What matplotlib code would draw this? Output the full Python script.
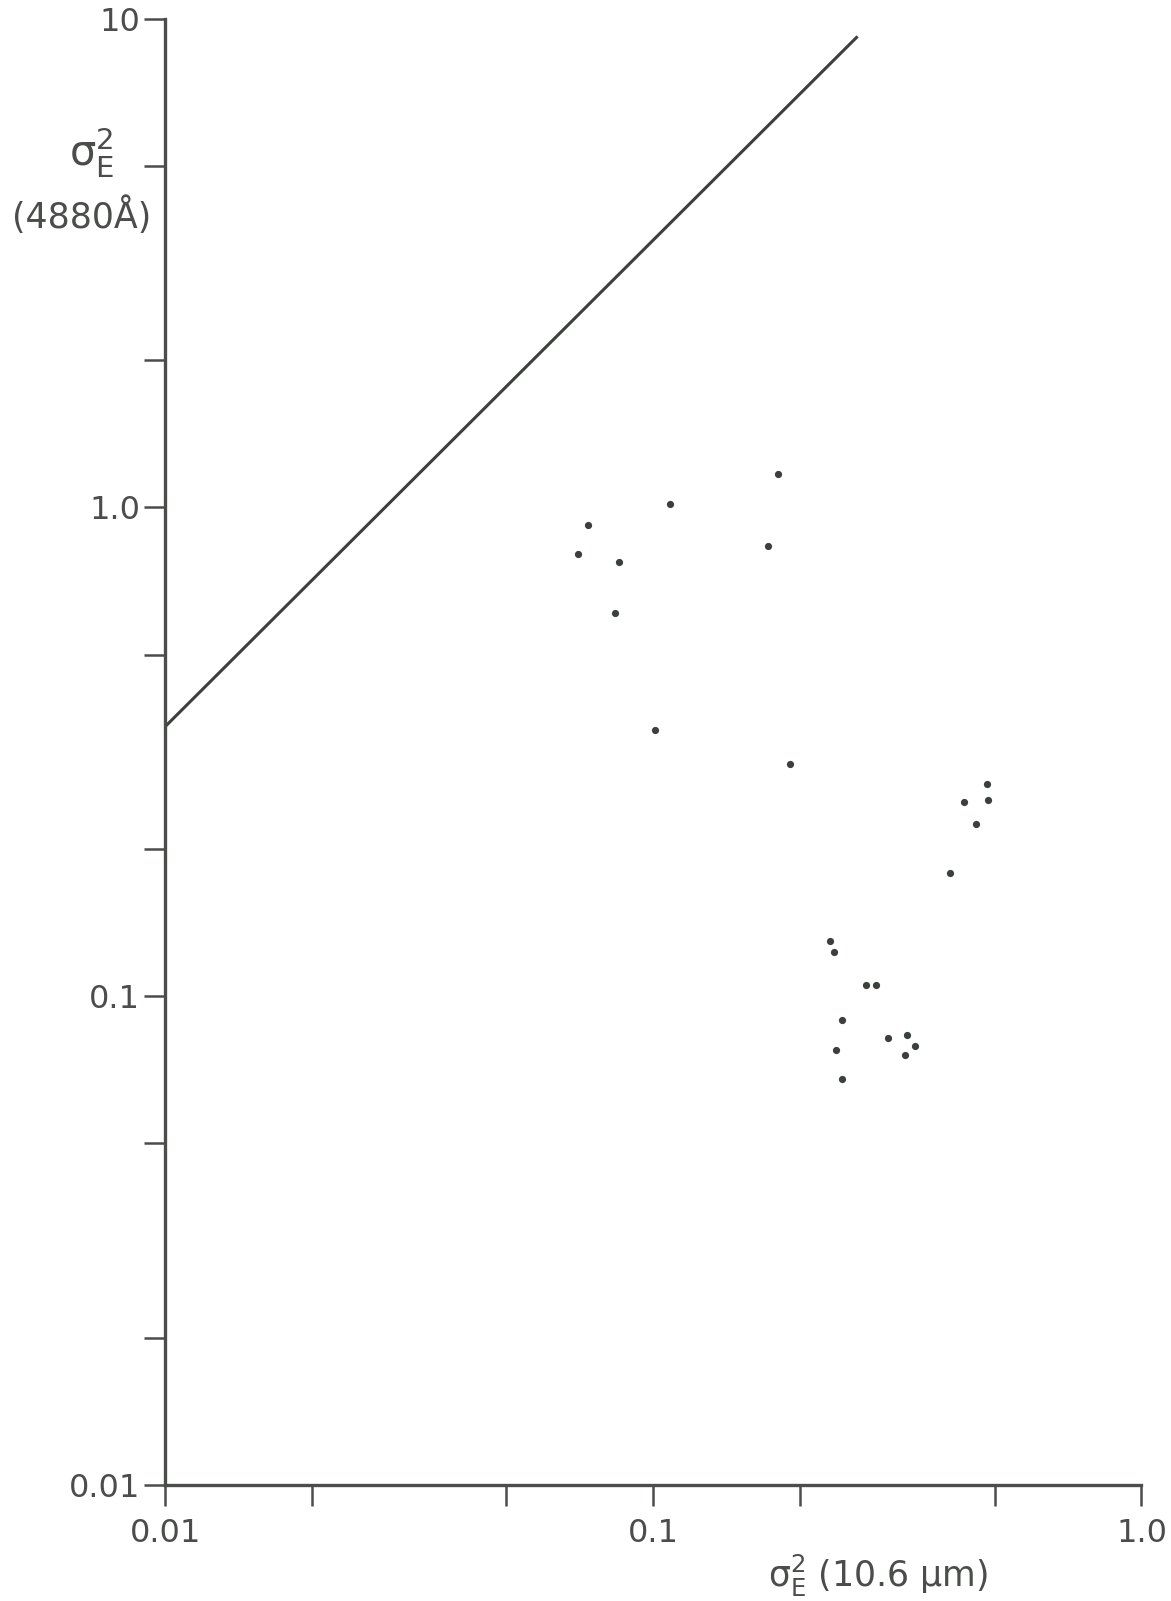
import matplotlib
matplotlib.use("Agg")
import matplotlib.pyplot as plt
import numpy as np

plt.rcParams["mathtext.default"] = "regular"

# scintillation variance at 10.6 um vs 4880 A
sig_ir = [0.1798, 0.1083, 0.0733, 0.0702, 0.0849, 0.172, 0.0833, 0.1006, 0.1902,
          0.483, 0.4325, 0.484, 0.458, 0.405, 0.230, 0.2349, 0.2727, 0.2858,
          0.2435, 0.3024, 0.3304, 0.343, 0.2367, 0.328, 0.2435]
sig_vis = [1.170, 1.016, 0.922, 0.804, 0.774, 0.835, 0.607, 0.350, 0.299,
           0.272, 0.250, 0.252, 0.2253, 0.179, 0.130, 0.123, 0.1053, 0.1055,
           0.0892, 0.0822, 0.0832, 0.0790, 0.0778, 0.0759, 0.0678]

# straight reference line (endpoints)
line_x = [0.01, 0.262]
line_y = [0.3565, 9.2]

xticks = [0.01, 0.02, 0.05, 0.1, 0.2, 0.5, 1.0]
xticklabels = ["0.01", "", "", "0.1", "", "", "1.0"]
yticks = [0.01, 0.02, 0.05, 0.1, 0.2, 0.5, 1.0, 2, 5, 10]
yticklabels = ["0.01", "", "", "0.1", "", "", "1.0", "", "", "10"]

ink = "#4a4d4a"

fig = plt.figure(figsize=(11.71, 16.01), dpi=100)
ax = fig.add_axes([0.1412, 0.07245, 0.8336, 0.91587])

ax.plot(line_x, line_y, color="#3c3f3c", lw=2.2, solid_capstyle="butt")
ax.plot(sig_ir, sig_vis, "o", color="#3c403c", ms=5.2, mec="none")

ax.set_xscale("log")
ax.set_yscale("log")
ax.set_xlim(0.01, 1.0)
ax.set_ylim(0.01, 10)
ax.minorticks_off()
ax.set_xticks(xticks)
ax.set_xticklabels(xticklabels)
ax.set_yticks(yticks)
ax.set_yticklabels(yticklabels)

for s in ["top", "right"]:
    ax.spines[s].set_visible(False)
for s in ["left", "bottom"]:
    ax.spines[s].set_color(ink)
    ax.spines[s].set_linewidth(2.4)

ax.tick_params(axis="both", direction="out", length=15, width=1.8, color=ink,
               labelcolor=ink, labelsize=23)
ax.tick_params(axis="y", pad=3)
ax.tick_params(axis="x", pad=9)

# axis titles
fig.text(92 / 1171, 1 - 152 / 1601, r"$\sigma_E^2$", fontsize=30, color=ink,
         ha="center", va="center")
fig.text(82 / 1171, 1 - 216 / 1601, "(4880Å)", fontsize=25, color=ink,
         ha="center", va="center")
fig.text(878 / 1171, 1 - 1576 / 1601, r"$\sigma_E^2$ (10.6 $\mu$m)", fontsize=25,
         color=ink, ha="center", va="center")

plt.savefig("out.png", dpi=100)
